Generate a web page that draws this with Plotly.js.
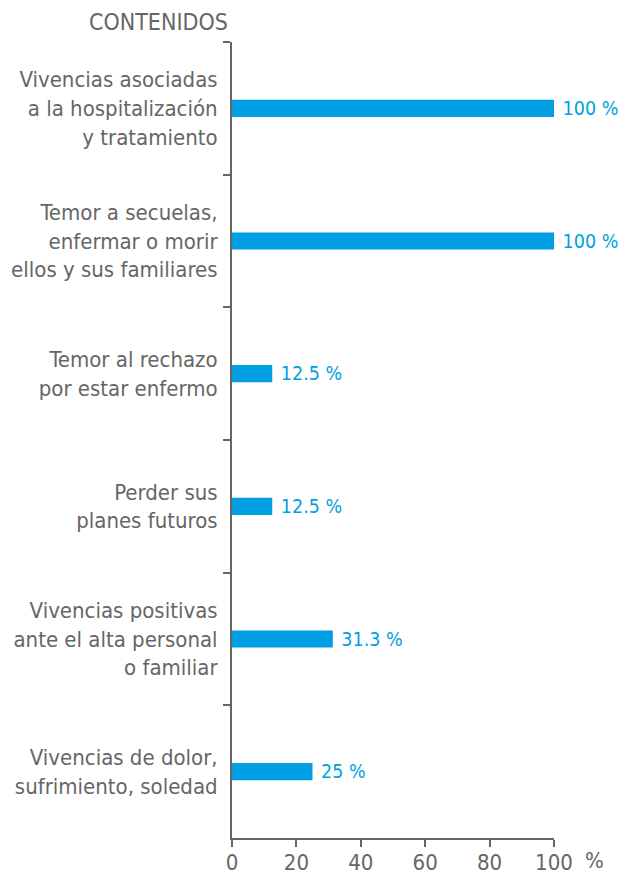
<!DOCTYPE html>
<html>
<head>
<meta charset="utf-8">
<script src="https://cdn.plot.ly/plotly-3.0.1.min.js"></script>
<style>html,body{margin:0;padding:0;background:#fff;}#chart{width:625px;height:875px;}</style>
</head>
<body>
<div id="chart"></div>
<script>
const categories = [
  "Vivencias asociadas<br>a la hospitalización<br>y tratamiento",
  "Temor a secuelas,<br>enfermar o morir<br>ellos y sus familiares",
  "Temor al rechazo<br>por estar enfermo",
  "Perder sus<br>planes futuros",
  "Vivencias positivas<br>ante el alta personal<br>o familiar",
  "Vivencias de dolor,<br>sufrimiento, soledad"
];
const values = [100, 100, 12.5, 12.5, 31.3, 25];
const labels = values.map(v => v + " %");
const xTicks = [0, 20, 40, 60, 80, 100];

const FONT = "'Liberation Sans Narrow', 'DejaVu Sans Condensed', 'Roboto', sans-serif";
const GRAY = "#666666";
const BLUE = "#009fe3";

const trace = {
  type: "bar",
  orientation: "h",
  x: values,
  y: categories,
  text: labels,
  texttemplate: "\u00a0%{text}",
  textposition: "outside",
  constraintext: "none",
  cliponaxis: false,
  textfont: {family: FONT, size: 19.5, color: BLUE},
  marker: {color: BLUE},
  hoverinfo: "none"
};

const layout = {
  width: 625, height: 875,
  margin: {l: 232, r: 71, t: 42, b: 37, pad: 0},
  paper_bgcolor: "#fff", plot_bgcolor: "#fff",
  showlegend: false,
  bargap: 0.87,
  font: {family: FONT, color: GRAY, size: 20},
  xaxis: {
    range: [0, 100],
    tickvals: xTicks,
    ticktext: xTicks.map(String),
    showgrid: false, zeroline: false,
    showline: true, linecolor: GRAY, linewidth: 2,
    ticks: "outside", ticklen: 7, tickwidth: 2, tickcolor: GRAY,
    ticklabelstandoff: -3,
    tickfont: {family: FONT, size: 22, color: GRAY},
    fixedrange: true
  },
  yaxis: {
    type: "category",
    categoryorder: "array",
    categoryarray: categories,
    range: [5.5, -0.5],
    showgrid: false, zeroline: false,
    showline: true, linecolor: GRAY, linewidth: 2,
    ticks: "outside", tickson: "boundaries", ticklen: 7, tickwidth: 2, tickcolor: GRAY,
    ticklabelstandoff: 8,
    tickfont: {family: FONT, size: 22, color: GRAY},
    fixedrange: true
  },
  annotations: [
    {text: "CONTENIDOS", xref: "paper", yref: "paper", x: 0, y: 1, xshift: -2, yshift: 20,
     xanchor: "right", yanchor: "middle", showarrow: false,
     font: {family: FONT, size: 23, color: GRAY}},
    {text: "%", xref: "paper", yref: "paper", x: 1, y: 0, xshift: 40, yshift: -22,
     xanchor: "center", yanchor: "middle", showarrow: false,
     font: {family: FONT, size: 22, color: GRAY}}
  ]
};

Plotly.newPlot("chart", [trace], layout, {staticPlot: true, displayModeBar: false});
</script>
</body>
</html>
